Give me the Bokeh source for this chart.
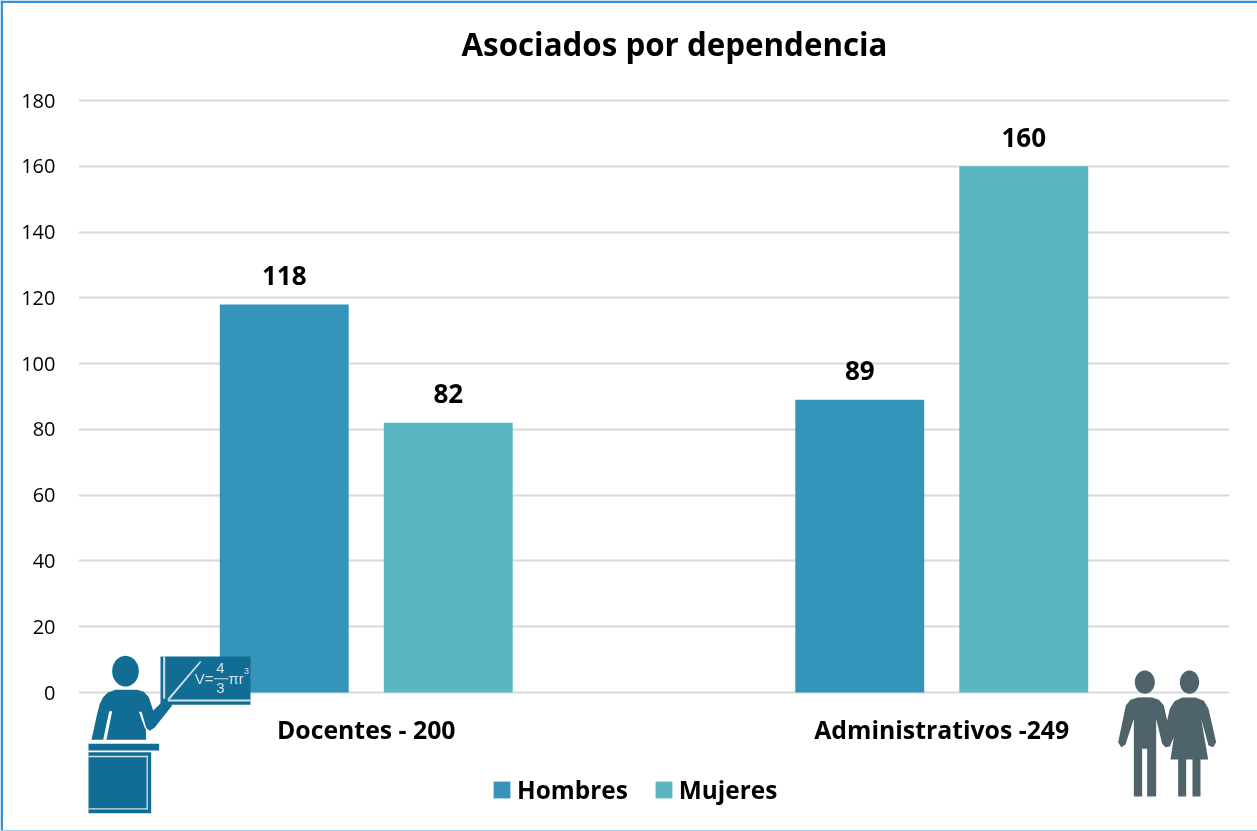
from bokeh.plotting import figure
from bokeh.models import ColumnDataSource, FactorRange, Range1d, Legend, LegendItem, FixedTicker
from bokeh.transform import dodge
from bokeh.core.properties import value
from bokeh.embed import file_html
from bokeh.resources import INLINE
import numpy as np

categories = ["Docentes - 200", "Administrativos -249"]
hombres = [118, 89]
mujeres = [82, 160]
y_ticks = [0, 20, 40, 60, 80, 100, 120, 140, 160, 180]
title_text = "Asociados por dependencia"

FONT = "Open Sans"
C_H, C_M = "#3594BA", "#5AB6C1"
TEACHER, PEOPLE, LIGHT = "#126D94", "#4F636B", "#CFE0E8"
FIXED = {"position": "fixed", "left": "0px", "top": "0px"}

src = ColumnDataSource(dict(cat=categories, h=hombres, m=mujeres,
                            hl=[str(v) for v in hombres], ml=[str(v) for v in mujeres]))

# the value range runs a little past 0 and 180 so that the gridlines at both ends are drawn
PAD = 10 * 180 / 592
p = figure(width=1257, height=831, x_range=FactorRange(factors=categories, range_padding=0, factor_padding=0),
           y_range=Range1d(-PAD, 180 + PAD), output_backend="svg", toolbar_location=None,
           min_border_left=78, min_border_right=28, min_border_top=90, min_border_bottom=129,
           background_fill_color="white", border_fill_color="white", styles=FIXED)
p.outline_line_color = None
p.xgrid.visible = False
p.ygrid.grid_line_color = "#D9D9D9"
p.ygrid.grid_line_width = 2
p.ygrid.ticker = FixedTicker(ticks=y_ticks)
p.yaxis.ticker = FixedTicker(ticks=y_ticks)

for ax in (p.xaxis[0], p.yaxis[0]):
    ax.axis_line_color = None
    ax.major_tick_line_color = None
    ax.minor_tick_line_color = None
    ax.major_label_text_font = FONT
    ax.major_label_text_color = "#000000"
p.yaxis[0].major_label_text_font_size = "20px"
p.yaxis[0].major_label_standoff = 17
p.xaxis[0].major_label_text_font_size = "24.8px"
p.xaxis[0].major_label_text_font_style = "bold"
p.xaxis[0].major_label_standoff = 3

OFF, W = 0.1425, 0.224
r1 = p.vbar(x=dodge("cat", -OFF, range=p.x_range), top="h", width=W, source=src, color=C_H, line_color=None)
r2 = p.vbar(x=dodge("cat", OFF, range=p.x_range), top="m", width=W, source=src, color=C_M, line_color=None)

for col, lab, off in (("h", "hl", -OFF), ("m", "ml", OFF)):
    p.text(x=dodge("cat", off, range=p.x_range), y=col, text=lab, source=src, text_align="center",
           text_baseline="middle", y_offset=-29, text_font=value(FONT), text_font_style="bold",
           text_font_size="26px", text_color="#000000")

# transparent sheet on top for the title, legend, the two pictograms and the outer frame;
# its scale is the picture's pixels, since annotations are clipped to the frame of the chart below
ov = figure(width=1257, height=831, x_range=Range1d(0, 1257), y_range=Range1d(831, 0), output_backend="svg",
            toolbar_location=None, min_border=0, background_fill_alpha=0, border_fill_alpha=0, styles=FIXED)
ov.outline_line_color = None
ov.grid.visible = False
ov.axis.visible = False

ov.text([674], [43.5], text=[title_text], text_align="center", text_baseline="middle", text_font=value(FONT),
        text_font_style="bold", text_font_size="31.3px", text_color="#000000")

# off-sheet swatch keys: only their legend entries show
k1 = ov.quad(left=[-30], right=[-20], top=[-30], bottom=[-20], fill_color=C_H, line_color=None)
k2 = ov.quad(left=[-30], right=[-20], top=[-30], bottom=[-20], fill_color=C_M, line_color=None)
leg = Legend(items=[LegendItem(label="Hombres", renderers=[k1]), LegendItem(label="Mujeres", renderers=[k2])],
             orientation="horizontal", location=(491, 25), border_line_color=None,
             background_fill_alpha=0, padding=0, margin=0, glyph_width=21, glyph_height=21,
             label_standoff=5, spacing=25, label_text_font=FONT, label_text_font_style="bold",
             label_text_font_size="24.4px", label_text_color="#000000", label_height=20)
ov.add_layout(leg, "center")


def poly(pts, color, x0=0.0, y0=0.0):
    ov.patch([x0 + a / 3 for a, _ in pts], [y0 + b / 3 for _, b in pts], fill_color=color, line_color=None)


def ellipse(cx, cy, rx, ry, color, x0, y0):
    t = np.linspace(0, 2 * np.pi, 40)
    poly(list(zip(cx + rx * np.cos(t), cy + ry * np.sin(t))), color, x0, y0)


def rect(a, b, c, d, color, x0, y0):
    poly([(a, b), (c, b), (c, d), (a, d)], color, x0, y0)


# teacher icon, traced in 3x zoom coordinates
X0, Y0 = 0, 630
ellipse(375, 122, 40, 46, TEACHER, X0, Y0)
poly([(273, 328), (290, 250), (298, 220), (308, 200), (322, 186), (345, 178), (410, 178), (430, 184), (445, 200),
      (458, 240), (495, 205), (515, 225), (462, 292), (448, 301), (436, 292), (437, 328)], TEACHER, X0, Y0)
poly([(326, 242), (335, 242), (318, 328), (308, 328)], "#FFFFFF", X0, Y0)
poly([(415, 244), (423, 244), (438, 295), (434, 295)], "#FFFFFF", X0, Y0)
rect(264, 340, 476, 360, TEACHER, X0, Y0)
rect(264, 365, 452, 548, TEACHER, X0, Y0)
rect(264, 376, 442, 380, LIGHT, X0, Y0)
rect(438, 376, 442, 537, LIGHT, X0, Y0)
rect(264, 533, 442, 537, LIGHT, X0, Y0)
rect(480, 78, 750, 223, TEACHER, X0, Y0)
rect(488, 78, 494, 205, LIGHT, X0, Y0)
rect(502, 207, 750, 213, LIGHT, X0, Y0)
poly([(500, 206), (598, 92), (603, 94), (507, 208)], LIGHT, X0, Y0)
rect(640, 143, 684, 146, LIGHT, X0, Y0)
for tx, ty, s, sz, al in ((213, 678, "V=", "15px", "right"), (220, 667, "4", "15px", "center"),
                          (220, 687, "3", "15px", "center"), (228, 678, "πr", "15px", "left"),
                          (246, 670, "3", "9px", "center")):
    ov.text([tx], [ty], text=[s], text_align=al, text_baseline="middle", text_font=value("Liberation Sans"),
            text_font_size=sz, text_color=LIGHT)

# couple icon
X1, Y1 = 1050, 640
ellipse(283, 125, 30, 35, PEOPLE, X1, Y1)
ellipse(417, 125, 29, 35, PEOPLE, X1, Y1)
poly([(283, 170), (305, 171), (325, 178), (340, 195), (350, 240), (358, 205), (372, 182), (395, 171), (435, 171),
      (460, 181), (474, 205), (497, 305), (488, 320), (474, 315), (452, 235), (473, 357), (450, 357), (450, 468),
      (426, 468), (426, 357), (407, 357), (407, 468), (383, 468), (383, 357), (360, 357), (370, 290), (358, 318),
      (345, 320), (335, 310), (317, 235), (317, 468), (290, 468), (290, 325), (275, 325), (275, 468), (250, 468),
      (250, 235), (225, 312), (212, 320), (203, 305), (226, 195), (240, 178), (262, 171)], PEOPLE, X1, Y1)

# chart frame
ov.quad(left=[0], right=[2.5], top=[0], bottom=[831], fill_color="#3A8FD3", line_color=None)
ov.quad(left=[0], right=[1257], top=[0], bottom=[2.5], fill_color="#3A8FD3", line_color=None)
ov.quad(left=[0], right=[1257], top=[829.5], bottom=[831], fill_color="#9CCBEB", line_color=None)

open("out.html", "w").write(file_html([p, ov], INLINE))
